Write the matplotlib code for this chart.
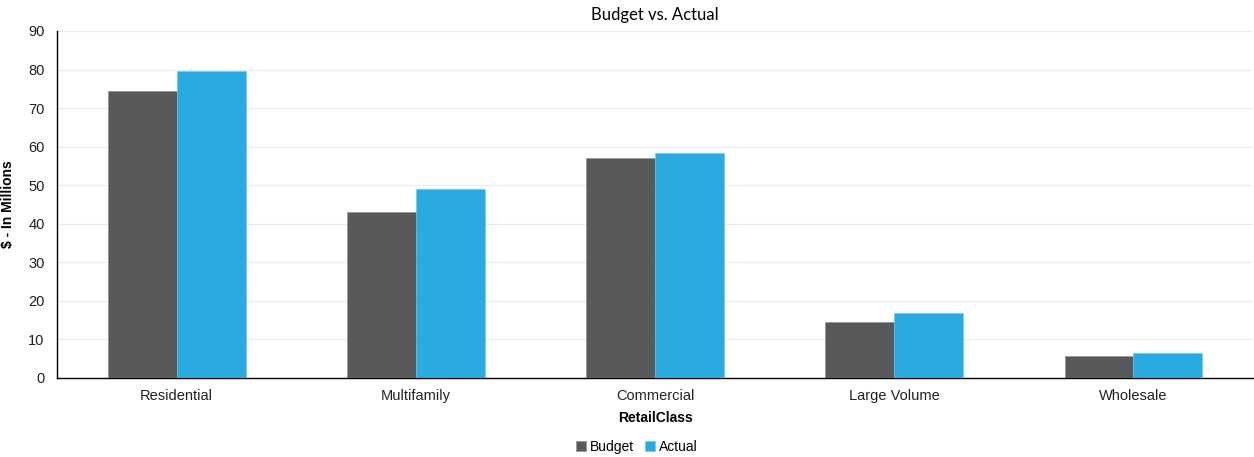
import numpy as np
import matplotlib.pyplot as plt

categories = ["Residential", "Multifamily", "Commercial", "Large Volume", "Wholesale"]
budget = [74.4, 43.1, 57.1, 14.4, 5.7]
actual = [79.6, 49.0, 58.4, 16.8, 6.5]

plt.rcParams['font.family'] = ['Liberation Sans', 'DejaVu Sans']

fig = plt.figure(figsize=(12.54, 4.57), dpi=100)
ax = fig.add_axes([0.0455, 0.1729, 0.9537, 0.7593])

x = np.arange(len(categories))
w = 0.288
ax.bar(x - w/2, budget, w, color='#58595B', edgecolor='#8a8b8d', linewidth=0.4, label='Budget', zorder=3)
ax.bar(x + w/2, actual, w, color='#29ABE2', edgecolor='#6cc6ec', linewidth=0.4, label='Actual', zorder=3)

ax.set_xlim(-0.5, len(categories) - 0.5)
ax.set_ylim(0, 90)
ax.set_yticks(range(0, 91, 10))
ax.set_xticks(x)
ax.set_xticklabels(categories)
ax.tick_params(axis='both', length=0, labelsize=10.5, colors='#222222')
ax.tick_params(axis='y', pad=9)
ax.tick_params(axis='x', pad=8)
ax.grid(axis='y', color='#ebebeb', linewidth=0.8, zorder=0)

for s in ['top', 'right']:
    ax.spines[s].set_visible(False)
for s in ['left', 'bottom']:
    ax.spines[s].set_color('black')
    ax.spines[s].set_linewidth(1.0)

ax.set_title("Budget vs. Actual", fontsize=12, family=['Lato', 'DejaVu Sans'], pad=8)
ax.set_ylabel("$ - In Millions", fontsize=10, fontweight='bold')
ax.yaxis.set_label_coords(-0.035, 0.5)
ax.set_xlabel("RetailClass", fontsize=10, fontweight='bold', labelpad=6)

fig.legend(loc='center', bbox_to_anchor=(0.508, 0.022), ncol=2, frameon=False,
           fontsize=10, handlelength=0.7, handleheight=0.7, handletextpad=0.3,
           columnspacing=0.8)

fig.savefig("out.png", dpi=100)
